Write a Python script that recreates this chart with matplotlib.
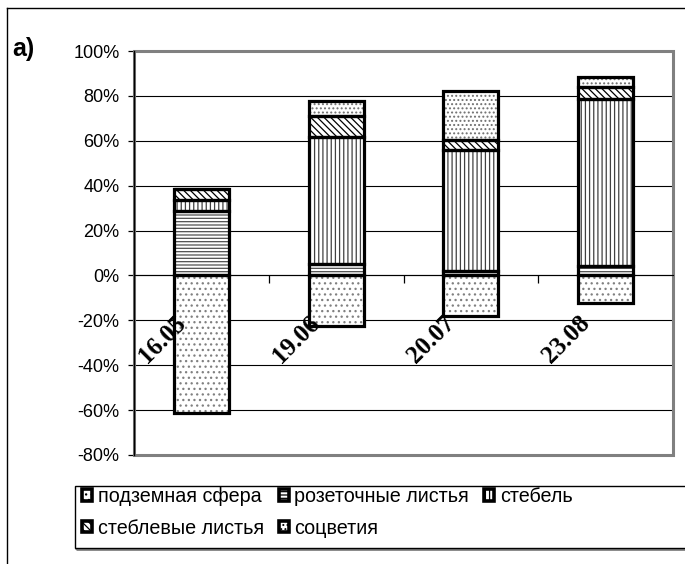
import matplotlib
matplotlib.use("Agg")
import matplotlib.pyplot as plt
from matplotlib.patches import Patch, Rectangle
from matplotlib.lines import Line2D

plt.rcParams['font.family'] = ['Liberation Sans', 'DejaVu Sans']
plt.rcParams['hatch.linewidth'] = 0.9

# Dates of sampling
dates = ['16.05', '19.06', '20.07', '23.08']

# Biomass allocation, % (underground part plotted below zero)
underground = [-61.3, -22.5, -18.1, -12.1]
rosette_leaves = [28.6, 5.2, 1.9, 4.1]
stem = [4.9, 56.4, 53.8, 74.6]
stem_leaves = [5.2, 9.6, 4.7, 5.4]
inflorescence = [0.0, 6.7, 21.8, 4.2]

series_names = ['подземная сфера', 'розеточные листья', 'стебель',
                'стеблевые листья', 'соцветия']
y_ticks = [-80, -60, -40, -20, 0, 20, 40, 60, 80, 100]

# pattern and pattern colour for each series
styles = {
    'подземная сфера': ('...', '#808080'),
    'розеточные листья': ('-----', '#505050'),
    'стебель': ('||||', '#404040'),
    'стеблевые листья': ('\\\\\\\\\\', 'black'),
    'соцветия': ('....', '#707070'),
}

W, H = 685, 564
fig = plt.figure(figsize=(W / 100, H / 100), dpi=100)
ax = fig.add_axes([134 / W, 1 - 455 / H, 539 / W, 404 / H])

x = list(range(len(dates)))
bw = 0.41


def draw(values, bottoms, name):
    hatch, hc = styles[name]
    ax.bar(x, values, bw, bottom=bottoms, color='white', edgecolor=hc,
           linewidth=0, hatch=hatch, zorder=3)
    ax.bar(x, values, bw, bottom=bottoms, fill=False, edgecolor='black',
           linewidth=2.3, zorder=4)


draw(underground, [0] * 4, 'подземная сфера')
base = [0.0] * 4
for vals, name in [(rosette_leaves, 'розеточные листья'), (stem, 'стебель'),
                   (stem_leaves, 'стеблевые листья'), (inflorescence, 'соцветия')]:
    draw(vals, base, name)
    base = [b + v for b, v in zip(base, vals)]

ax.set_xlim(-0.5, len(dates) - 0.5)
ax.set_ylim(-80, 100)
ax.set_yticks(y_ticks)
ax.set_yticklabels([f'{v}%' for v in y_ticks], fontsize=13)
ax.tick_params(axis='y', direction='out', length=4.5, width=0.9, pad=6)

ax.yaxis.grid(True, color='black', linewidth=0.8)
ax.set_axisbelow(True)

# category axis crosses at zero
ax.spines['bottom'].set_position(('data', 0))
ax.spines['bottom'].set_color('black')
ax.spines['bottom'].set_linewidth(0.8)
ax.spines['top'].set_visible(False)
ax.spines['right'].set_visible(False)
ax.spines['left'].set_color('black')
ax.spines['left'].set_linewidth(1.0)
ax.set_xticks([i + 0.5 for i in x[:-1]])
ax.set_xticklabels([])
ax.tick_params(axis='x', direction='out', length=6, width=0.9)

# grey plot-area frame
ax.add_patch(Rectangle((0, 0), 1, 1, transform=ax.transAxes, fill=False,
                       edgecolor='#808080', linewidth=2.2, clip_on=False,
                       zorder=1))

for i, d in zip(x, dates):
    ax.annotate(d, xy=(i, 0), xycoords='data', xytext=(-20, -26),
                textcoords='offset points', rotation=45,
                rotation_mode='anchor', ha='right', va='top',
                fontsize=18, fontweight='bold', family='Liberation Serif',
                zorder=5)

# panel label
fig.text(12 / W, 1 - 49 / H, 'а)', fontsize=18, fontweight='bold',
         ha='left', va='center')

# outer frame (left and top edges)
fig.add_artist(Line2D([7 / W, 7 / W], [0, 1 - 8 / H], transform=fig.transFigure,
                      color='black', linewidth=1.0))
fig.add_artist(Line2D([7 / W, 1], [1 - 8 / H, 1 - 8 / H], transform=fig.transFigure,
                      color='black', linewidth=1.0))

# legend box
fig.add_artist(Rectangle((76 / W, 1 - 549 / H), 640 / W, 62 / H,
                         transform=fig.transFigure, fill=False,
                         edgecolor='#808080', linewidth=2.0))
fig.add_artist(Rectangle((75 / W, 1 - 548 / H), 640 / W, 62 / H,
                         transform=fig.transFigure, facecolor='white',
                         edgecolor='black', linewidth=1.0))

handles = {n: Patch(facecolor='white', edgecolor='black', linewidth=2.6,
                    hatch=styles[n][0], label=n) for n in series_names}
order = ['подземная сфера', 'стеблевые листья', 'розеточные листья',
         'соцветия', 'стебель']
fig.legend([handles[n] for n in order], order, loc='upper left',
           bbox_to_anchor=(82 / W, 1 - 487 / H), ncol=3, frameon=False,
           fontsize=14.2, handlelength=0.5, handleheight=0.5,
           handletextpad=0.3, columnspacing=0.75, labelspacing=0.64,
           borderpad=0, borderaxespad=0)

fig.savefig('out.png', dpi=100)
